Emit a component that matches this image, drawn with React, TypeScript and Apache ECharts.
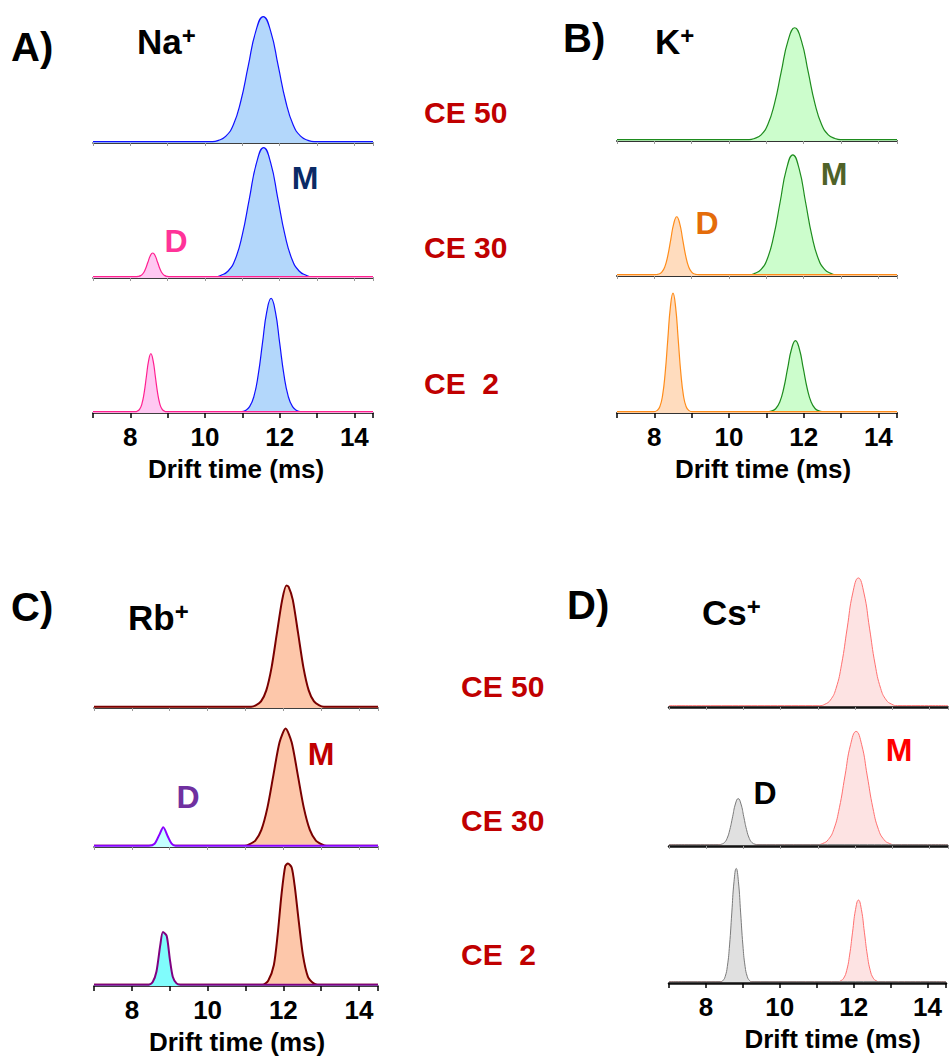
import React, { useEffect, useRef } from "react";
import * as echarts from "echarts";

type Pt = [number, number];

// ---------- Data (drift time ms, relative intensity) ----------
// Panel A: Na+
const naCE50_M: Pt[] = [[7,0],[10.2,0],[10.36,1.0],[10.56,4.2],[10.76,12.8],[10.96,30.9],[11.16,57.7],[11.36,83.8],[11.56,95],[11.76,83.8],[11.96,57.7],[12.16,30.9],[12.36,12.8],[12.56,4.2],[12.76,1.0],[12.92,0],[14.5,0]];
const naCE30_M: Pt[] = [[7,0],[10.28,0],[10.43,1.1],[10.62,4.3],[10.81,13.2],[11.0,31.9],[11.19,59.5],[11.38,86.4],[11.57,98],[11.76,86.4],[11.95,59.5],[12.14,31.9],[12.33,13.2],[12.52,4.3],[12.71,1.1],[12.86,0],[14.5,0]];
const naCE30_D: Pt[] = [[7,0],[8.15,0],[8.21,0.2],[8.275,0.8],[8.34,2.4],[8.405,5.9],[8.47,10.9],[8.535,15.9],[8.6,18],[8.665,15.9],[8.73,10.9],[8.795,5.9],[8.86,2.4],[8.925,0.8],[8.99,0.2],[9.05,0],[14.5,0]];
const naCE2_M: Pt[] = [[7,0],[10.99,0],[11.08,0.9],[11.195,3.8],[11.31,11.6],[11.425,27.9],[11.54,52.2],[11.655,75.9],[11.77,86],[11.885,75.9],[12.0,52.2],[12.115,27.9],[12.23,11.6],[12.345,3.8],[12.46,0.9],[12.55,0],[14.5,0]];
const naCE2_D: Pt[] = [[7,0],[8.14,0],[8.19,0.5],[8.25,1.9],[8.31,5.9],[8.37,14.3],[8.43,26.7],[8.49,38.8],[8.55,44],[8.61,38.8],[8.67,26.7],[8.73,14.3],[8.79,5.9],[8.85,1.9],[8.91,0.5],[8.96,0],[14.5,0]];

// Panel B: K+
const kCE50_M: Pt[] = [[7,0],[10.54,0],[10.68,0.9],[10.86,3.7],[11.04,11.5],[11.22,27.6],[11.4,51.6],[11.58,75.0],[11.76,85],[11.94,75.0],[12.12,51.6],[12.3,27.6],[12.48,11.5],[12.66,3.7],[12.84,0.9],[12.98,0],[14.5,0]];
const kCE30_M: Pt[] = [[7,0],[10.55,0],[10.69,1.0],[10.86,4.0],[11.03,12.3],[11.2,29.6],[11.37,55.2],[11.54,80.3],[11.71,91],[11.88,80.3],[12.05,55.2],[12.22,29.6],[12.39,12.3],[12.56,4.0],[12.73,1.0],[12.87,0],[14.5,0]];
const kCE30_D: Pt[] = [[7,0],[8.0,0],[8.12,0.5],[8.2,1.9],[8.28,5.9],[8.36,14.3],[8.44,26.7],[8.52,38.8],[8.6,44],[8.68,38.8],[8.76,26.7],[8.84,14.3],[8.92,5.9],[9.0,1.9],[9.08,0.5],[9.2,0],[14.5,0]];
const kCE2_M: Pt[] = [[7,0],[11.07,0],[11.15,0.6],[11.255,2.4],[11.36,7.3],[11.465,17.6],[11.57,32.8],[11.675,47.6],[11.78,54],[11.885,47.6],[11.99,32.8],[12.095,17.6],[12.2,7.3],[12.305,2.4],[12.41,0.6],[12.49,0],[14.5,0]];
const kCE2_D: Pt[] = [[7,0],[7.98,0],[8.08,1.0],[8.15,4.0],[8.22,12.2],[8.29,29.3],[8.36,54.6],[8.43,79.4],[8.5,90],[8.57,79.4],[8.64,54.6],[8.71,29.3],[8.78,12.2],[8.85,4.0],[8.92,1.0],[9.02,0],[14.5,0]];

// Panel C: Rb+
const rbCE50_M: Pt[] = [[7,0],[11.15,0],[11.27,1.0],[11.41,4.0],[11.55,12.4],[11.69,29.9],[11.83,55.8],[11.97,81.1],[12.08,92],[12.14,91],[12.25,81.1],[12.39,55.8],[12.53,29.9],[12.67,12.4],[12.81,4.0],[12.95,1.0],[13.07,0],[14.5,0]];
const rbCE30_M: Pt[] = [[7,0],[10.98,0],[11.1,1.0],[11.26,3.9],[11.42,12.0],[11.58,28.9],[11.74,54.0],[11.9,78.5],[12.06,89],[12.22,78.5],[12.38,54.0],[12.54,28.9],[12.7,12.0],[12.86,3.9],[13.02,1.0],[13.14,0],[14.5,0]];
const rbCE30_D: Pt[] = [[7,0],[8.45,0],[8.6,1.5],[8.72,8],[8.83,14],[8.95,7],[9.05,1.5],[9.15,0],[14.5,0]];
const rbCE2_M: Pt[] = [[7,0],[11.45,0],[11.6,3],[11.75,15],[11.85,38],[11.95,68],[12.05,90],[12.12,92],[12.22,89],[12.3,75],[12.4,50],[12.52,22],[12.65,6],[12.8,1],[12.9,0],[14.5,0]];
const rbCE2_D: Pt[] = [[7,0],[8.45,0],[8.55,2],[8.65,10],[8.75,30],[8.82,40],[8.92,37],[9.0,20],[9.08,6],[9.18,1],[9.28,0],[14.5,0]];

// Panel D: Cs+
const csCE50_M: Pt[] = [[7,0],[11.04,0],[11.19,1.1],[11.34,4.3],[11.49,13.1],[11.64,31.5],[11.79,58.9],[11.94,85.6],[12.09,97],[12.24,85.6],[12.39,58.9],[12.54,31.5],[12.69,13.1],[12.84,4.3],[12.99,1.1],[13.14,0],[14.5,0]];
const csCE30_M: Pt[] = [[7,0],[10.98,0],[11.13,0.9],[11.28,3.8],[11.43,11.6],[11.58,28.0],[11.73,52.2],[11.88,75.9],[12.03,86],[12.18,75.9],[12.33,52.2],[12.48,28.0],[12.63,11.6],[12.78,3.8],[12.93,0.9],[13.08,0],[14.5,0]];
const csCE30_D: Pt[] = [[7,0],[8.33,0],[8.41,0.4],[8.485,1.5],[8.56,4.7],[8.635,11.4],[8.71,21.2],[8.785,30.9],[8.86,35],[8.935,30.9],[9.01,21.2],[9.085,11.4],[9.16,4.7],[9.235,1.5],[9.31,0.4],[9.39,0],[14.5,0]];
const csCE2_M: Pt[] = [[7,0],[11.57,0],[11.65,0.7],[11.73,2.7],[11.81,8.4],[11.89,20.2],[11.97,37.6],[12.05,54.7],[12.13,62],[12.21,54.7],[12.29,37.6],[12.37,20.2],[12.45,8.4],[12.53,2.7],[12.61,0.7],[12.69,0],[14.5,0]];
const csCE2_D: Pt[] = [[7,0],[8.4,0],[8.46,0.9],[8.52,3.8],[8.58,11.6],[8.64,27.9],[8.7,52.2],[8.76,75.9],[8.82,86],[8.88,75.9],[8.94,52.2],[9.0,27.9],[9.06,11.6],[9.12,3.8],[9.18,0.9],[9.24,0],[14.5,0]];

const ceLabels = ["CE 50", "CE 30", "CE  2"];
const xMin = 7;
const xMax = 14.5;
const xTickStep = 1;
const xLabelValues = [8, 10, 12, 14];
const xAxisTitle = "Drift time (ms)";

// ---------- Layout / style ----------
const FONT = "'Liberation Sans', Arial, Helvetica, sans-serif";
const ROW_H = 133;

interface Trace { data: Pt[]; line: string; fill: string; }
interface Panel {
  left: number; width: number; baselines: number[];
  rows: Trace[][]; lineWidth: number; smooth: boolean | number;
  axisWidth: number; axisColor: string; titleShift: number; axisOnTop: boolean;
}

const panels: Panel[] = [
  {
    left: 93, width: 280, baselines: [143, 278, 413], lineWidth: 1.2, smooth: true, axisWidth: 1.5, axisColor: "#000", titleShift: 6, axisOnTop: false,
    rows: [
      [{ data: naCE50_M, line: "#1010ff", fill: "#b3d7fb" }],
      [{ data: naCE30_M, line: "#1010ff", fill: "#b3d7fb" }, { data: naCE30_D, line: "#ff2090", fill: "#ffc8f2" }],
      [{ data: naCE2_M, line: "#1010ff", fill: "#b3d7fb" }, { data: naCE2_D, line: "#ff2090", fill: "#ffc8f2" }],
    ],
  },
  {
    left: 617, width: 280, baselines: [141, 276, 413], lineWidth: 1.2, smooth: true, axisWidth: 2, axisColor: "#333", titleShift: 12, axisOnTop: false,
    rows: [
      [{ data: kCE50_M, line: "#1e8c1e", fill: "#ccfdcc" }],
      [{ data: kCE30_M, line: "#1e8c1e", fill: "#ccfdcc" }, { data: kCE30_D, line: "#ff8c1a", fill: "#ffdcbe" }],
      [{ data: kCE2_M, line: "#1e8c1e", fill: "#ccfdcc" }, { data: kCE2_D, line: "#ff8c1a", fill: "#ffdcbe" }],
    ],
  },
  {
    left: 94, width: 284, baselines: [708, 847, 986], lineWidth: 2, smooth: 0.25, axisWidth: 1.5, axisColor: "#000", titleShift: 2, axisOnTop: false,
    rows: [
      [{ data: rbCE50_M, line: "#7a0000", fill: "#fdc7aa" }],
      [{ data: rbCE30_M, line: "#7a0000", fill: "#fdc7aa" }, { data: rbCE30_D, line: "#8a00ff", fill: "#c4ffff" }],
      [{ data: rbCE2_M, line: "#7a0000", fill: "#fdc7aa" }, { data: rbCE2_D, line: "#800080", fill: "#80fcfc" }],
    ],
  },
  {
    left: 669, width: 279, baselines: [707, 846, 983], lineWidth: 1, smooth: true, axisWidth: 2.5, axisColor: "#111", titleShift: 50, axisOnTop: true,
    rows: [
      [{ data: csCE50_M, line: "#ff7070", fill: "#fde3e3" }],
      [{ data: csCE30_M, line: "#ff7070", fill: "#fde3e3" }, { data: csCE30_D, line: "#7a7a7a", fill: "#e0e0e0" }],
      [{ data: csCE2_M, line: "#ff7070", fill: "#fde3e3" }, { data: csCE2_D, line: "#7a7a7a", fill: "#e0e0e0" }],
    ],
  },
];

const panelLetters = [
  { text: "A)", x: 11, y: 47 },
  { text: "B)", x: 563, y: 38 },
  { text: "C)", x: 11, y: 607 },
  { text: "D)", x: 567, y: 605 },
];
const ionLabels = [
  { ion: "Na", x: 137, y: 41 },
  { ion: "K", x: 655, y: 41 },
  { ion: "Rb", x: 128, y: 617 },
  { ion: "Cs", x: 702, y: 612 },
];
const peakLabels = [
  { text: "M", x: 305, y: 178, color: "#0a2a66" },
  { text: "D", x: 176, y: 241, color: "#ff3399" },
  { text: "M", x: 834, y: 174, color: "#4f6228" },
  { text: "D", x: 707, y: 223, color: "#e46c0a" },
  { text: "M", x: 321, y: 754, color: "#c00000" },
  { text: "D", x: 188, y: 797, color: "#7030a0" },
  { text: "M", x: 899, y: 750, color: "#ff0000" },
  { text: "D", x: 765, y: 793, color: "#000000" },
];
const ceLabelPos = [
  { x: 424, ys: [112, 247, 383] },
  { x: 461, ys: [686, 820, 954] },
];

function buildOption() {
  const grid: any[] = [];
  const xAxis: any[] = [];
  const yAxis: any[] = [];
  const series: any[] = [];
  let idx = 0;
  panels.forEach((p) => {
    p.rows.forEach((row, r) => {
      const bottomRow = r === p.rows.length - 1;
      const base = p.baselines[r];
      grid.push({ left: p.left, width: p.width, top: base - ROW_H, height: ROW_H });
      xAxis.push({
        gridIndex: idx,
        type: "value",
        min: xMin,
        max: xMax,
        interval: xTickStep,
        z: p.axisOnTop ? 10 : 0,
        splitLine: { show: false },
        axisLine: { show: true, onZero: false, lineStyle: { color: p.axisColor, width: p.axisWidth } },
        axisTick: {
          show: true,
          inside: false,
          length: bottomRow ? 5 : 3,
          lineStyle: { color: bottomRow ? "#000" : "#999", width: bottomRow ? 1.5 : 1 },
        },
        axisLabel: bottomRow
          ? {
              show: true,
              margin: 11,
              color: "#000",
              fontSize: 26,
              fontWeight: "bold",
              fontFamily: FONT,
              showMinLabel: true,
              showMaxLabel: true,
              formatter: (v: number) => (xLabelValues.indexOf(v) >= 0 ? String(v) : ""),
            }
          : { show: false },
        name: bottomRow ? xAxisTitle : "",
        nameLocation: "middle",
        nameGap: 43,
        nameTextStyle: {
          color: "#000",
          fontSize: 26,
          fontWeight: "bold",
          fontFamily: FONT,
          padding: [0, 0, 0, p.titleShift],
        },
      });
      yAxis.push({
        gridIndex: idx,
        type: "value",
        min: -1,
        max: 100,
        show: false,
        splitLine: { show: false },
      });
      row.forEach((t, k) => {
        series.push({
          type: "line",
          xAxisIndex: idx,
          yAxisIndex: idx,
          data: t.data,
          symbol: "none",
          showSymbol: false,
          smooth: p.smooth,
          lineStyle: { color: t.line, width: p.lineWidth },
          areaStyle: { color: t.fill, opacity: 1, origin: "start" },
          z: 2 + k,
          silent: true,
        });
      });
      idx++;
    });
  });

  const graphic: any[] = [];
  panelLetters.forEach((l) =>
    graphic.push({
      type: "text",
      x: l.x,
      y: l.y,
      style: { text: l.text, fill: "#000", fontSize: 40, fontWeight: "bold", fontFamily: FONT, align: "left", verticalAlign: "middle" },
    })
  );
  ionLabels.forEach((l) =>
    graphic.push({
      type: "text",
      x: l.x,
      y: l.y,
      style: {
        text: `{a|${l.ion}}{b|+}`,
        fill: "#000",
        align: "left",
        verticalAlign: "middle",
        rich: {
          a: { fontSize: 35, fontWeight: "bold", fontFamily: FONT, fill: "#000" },
          b: { fontSize: 24, fontWeight: "bold", fontFamily: FONT, fill: "#000", verticalAlign: "top" },
        },
      },
    })
  );
  peakLabels.forEach((l) =>
    graphic.push({
      type: "text",
      x: l.x,
      y: l.y,
      style: { text: l.text, fill: l.color, fontSize: 32, fontWeight: "bold", fontFamily: FONT, align: "center", verticalAlign: "middle" },
    })
  );
  ceLabelPos.forEach((c) =>
    c.ys.forEach((y, i) =>
      graphic.push({
        type: "text",
        x: c.x,
        y,
        style: { text: ceLabels[i], fill: "#c00000", fontSize: 30, fontWeight: "bold", fontFamily: FONT, align: "left", verticalAlign: "middle", whiteSpace: "pre" },
      })
    )
  );

  return {
    animation: false,
    backgroundColor: "#ffffff",
    grid,
    xAxis,
    yAxis,
    series,
    graphic,
  };
}

export default function App() {
  const ref = useRef<HTMLDivElement>(null);
  useEffect(() => {
    if (!ref.current) return;
    const chart = echarts.init(ref.current, undefined, { renderer: "svg" });
    chart.setOption(buildOption() as any);
    return () => chart.dispose();
  }, []);
  return (
    <div
      ref={ref}
      style={{ position: "absolute", left: 0, top: 0, width: 949, height: 1059, background: "#fff" }}
    />
  );
}
